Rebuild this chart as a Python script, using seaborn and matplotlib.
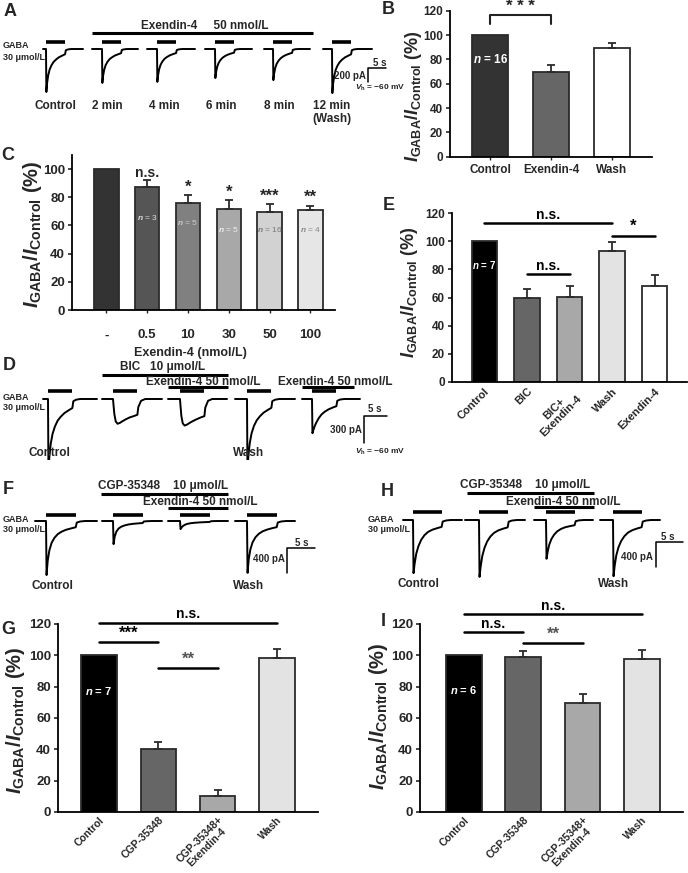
import matplotlib
matplotlib.use('Agg')
import matplotlib.pyplot as plt
import seaborn as sns

# ---------------- data ----------------
# time after GABA onset (s), shared by every current trace
t_shape = [0, 0.1, 0.3, 0.6, 1.0, 1.5, 2.1, 2.8, 3.6, 4.5, 5.3, 5.5, 6.1, 7.0]
gaba_dur = 5.3

# panel A currents (pA)
A_control = [0, -615, -490, -380, -295, -235, -185, -150, -118, -95, -75, -18, -6, 0]
A_2min = [0, -485, -385, -300, -232, -185, -145, -118, -93, -75, -60, -14, -5, 0]
A_4min = [0, -470, -375, -290, -225, -178, -140, -113, -90, -72, -58, -14, -5, 0]
A_6min = [0, -415, -330, -258, -200, -158, -125, -100, -80, -64, -52, -12, -4, 0]
A_8min = [0, -445, -355, -276, -214, -170, -134, -107, -85, -68, -55, -13, -4, 0]
A_wash = [0, -630, -500, -390, -302, -240, -190, -152, -120, -96, -76, -18, -6, 0]
A_labels = ['Control', '2 min', '4 min', '6 min', '8 min', '12 min\n(Wash)']

# panel D currents (pA)
D_control = [0, -810, -640, -495, -385, -305, -240, -195, -155, -125, -100, -25, -8, 0]
D_bic = [0, -60, -170, -250, -275, -265, -245, -225, -205, -190, -175, -90, -20, 0]
D_bicex = [0, -70, -190, -270, -295, -285, -265, -245, -225, -205, -190, -95, -20, 0]
D_wash = [0, -800, -630, -490, -380, -300, -238, -192, -152, -122, -98, -24, -8, 0]
D_ex = [0, -380, -345, -300, -255, -210, -170, -140, -115, -95, -80, -20, -6, 0]

# panel F currents (pA)
F_control = [0, -865, -640, -470, -350, -270, -210, -170, -140, -118, -100, -25, -8, 0]
F_cgp = [0, -370, -250, -170, -120, -90, -70, -55, -45, -38, -32, -8, -3, 0]
F_cgpex = [0, -130, -100, -75, -55, -42, -33, -27, -22, -18, -15, -4, -1, 0]
F_wash = [0, -830, -620, -455, -340, -262, -205, -165, -137, -115, -98, -24, -8, 0]

# panel H currents (pA)
H_control = [0, -850, -700, -540, -420, -320, -245, -190, -155, -130, -110, -25, -8, 0]
H_cgp = [0, -910, -750, -580, -450, -345, -265, -205, -165, -138, -118, -27, -9, 0]
H_cgpex = [0, -620, -510, -395, -305, -235, -180, -142, -115, -97, -83, -19, -6, 0]
H_wash = [0, -900, -740, -570, -440, -338, -260, -200, -162, -135, -115, -26, -9, 0]

# bar charts (% of control)
B_cats = ['Control', 'Exendin-4', 'Wash']
B_vals = [100, 69.5, 89.5]
B_err = [0, 5.5, 3.6]

C_cats = ['-', '0.5', '10', '30', '50', '100']
C_vals = [100, 87, 76, 71.5, 69.5, 71]
C_err = [0, 5, 5.5, 6.5, 5.5, 3]
C_sig = ['', 'n.s.', '*', '*', '***', '**']
C_n = ['', '3', '5', '5', '16', '4']

E_cats = ['Control', 'BIC', 'BIC+\nExendin-4', 'Wash', 'Exendin-4']
E_vals = [100, 60, 60.5, 93, 68]
E_err = [0, 5.7, 7.6, 6.3, 7.8]

G_cats = ['Control', 'CGP-35348', 'CGP-35348+\nExendin-4', 'Wash']
G_vals = [100, 40, 10, 98.5]
G_err = [0, 5, 4.2, 5.8]

I_cats = ['Control', 'CGP-35348', 'CGP-35348+\nExendin-4', 'Wash']
I_vals = [100, 98.7, 69.5, 97.7]
I_err = [0, 3.8, 5.8, 5.9]

# ---------------- style ----------------
sns.set_theme(style='ticks')
plt.rcParams['font.family'] = ['Liberation Sans', 'DejaVu Sans']
plt.rcParams['font.weight'] = 'bold'
plt.rcParams['mathtext.fontset'] = 'custom'
plt.rcParams['mathtext.rm'] = 'Liberation Sans:bold'
plt.rcParams['mathtext.it'] = 'Liberation Sans:bold:italic'
plt.rcParams['mathtext.bf'] = 'Liberation Sans:bold'
plt.rcParams['axes.edgecolor'] = 'black'
plt.rcParams['axes.linewidth'] = 1.3

W, H = 688, 873
fig = plt.figure(figsize=(W / 100, H / 100), dpi=100)
fig.patch.set_facecolor('white')


def px_rect(l, t, r, b):
    return [l / W, 1 - b / H, (r - l) / W, (b - t) / H]


def trace_axes(l, t, r, b, base, pxs, pap):
    ax = fig.add_axes(px_rect(l, t, r, b))
    ax.set_xlim(l / pxs, r / pxs)
    ax.set_ylim((base - b) * pap, (base - t) * pap)
    ax.axis('off')
    return ax


def draw_traces(ax, traces, starts, onsets, ends, pxs, pap, base, gaba_y):
    level = (base - gaba_y) * pap
    for vals, s, o, e in zip(traces, starts, onsets, ends):
        t0 = o / pxs
        tt = [s / pxs] + [t0 + x for x in t_shape] + [e / pxs]
        yy = [0] + list(vals) + [0]
        ax.plot(tt, yy, color='black', lw=1.4)
        ax.plot([t0, t0 + gaba_dur], [level, level], color='black', lw=2.6,
                solid_capstyle='butt')


def scale_bar(ax, cx, cy, pxs, pap, base, sec, pa):
    x0 = cx / pxs
    y0 = (base - cy) * pap
    ax.plot([x0 + sec, x0, x0], [y0, y0, y0 - pa], color='black', lw=1.1)


def bar_panel(l, t, r, b, ylim, xlim, cats, vals, errs, colors, yticks,
              tick_fs=9, xfs=8.5, rot=0):
    ax = fig.add_axes(px_rect(l, t, r, b))
    sns.barplot(x=cats, y=vals, hue=cats, palette=colors, width=0.6,
                edgecolor='#2b2b2b', linewidth=1.3, legend=False,
                saturation=1, ax=ax)
    idx = [i for i, e in enumerate(errs) if e > 0]
    ax.errorbar(idx, [vals[i] for i in idx],
                yerr=[[0] * len(idx), [errs[i] for i in idx]],
                fmt='none', ecolor='#2b2b2b', elinewidth=1.3, capsize=3,
                capthick=1.3)
    ax.set_ylim(*ylim)
    ax.set_xlim(*xlim)
    ax.set_yticks(yticks)
    ax.set_xlabel('')
    ax.set_ylabel('')
    sns.despine(ax=ax)
    ax.tick_params(axis='y', length=3, width=1.2, labelsize=tick_fs, pad=2)
    ax.tick_params(axis='x', length=2, width=1, labelsize=xfs, pad=3)
    if rot:
        for lab in ax.get_xticklabels():
            lab.set_rotation(rot)
            lab.set_ha('right')
            lab.set_rotation_mode('anchor')
            lab.set_multialignment('center')
            lab.set_linespacing(1.0)
    return ax


def sig_line(ax, x0, x1, y, label, fs=9, color='black'):
    ax.plot([x0, x1], [y, y], color='black', lw=1.8, clip_on=False)
    ax.text((x0 + x1) / 2, y + 1, label, ha='center', va='bottom',
            fontsize=fs, color=color, clip_on=False)


# ---------------- traces ----------------
# A
axA = trace_axes(0, 20, 400, 125, 49, 3.6, 14.3)
draw_traces(axA, [A_control, A_2min, A_4min, A_6min, A_8min, A_wash],
            [43, 92, 147, 205, 264, 323], [46, 102, 157, 215, 273, 332],
            [83, 138, 195, 252, 310, 372], 3.6, 14.3, 49, 42)
scale_bar(axA, 368, 68, 3.6, 14.3, 49, 5, 200)

# D
axD = trace_axes(0, 355, 400, 460, 399, 4.6, 11.1)
draw_traces(axD, [D_control, D_bic, D_bicex, D_wash, D_ex],
            [43, 102, 168, 235, 302], [48, 113, 180, 247, 312],
            [97, 162, 227, 295, 360], 4.6, 11.1, 399, 391)
scale_bar(axD, 364, 416, 4.6, 11.1, 399, 5, 300)

# F
axF = trace_axes(0, 480, 340, 592, 521, 5.6, 16)
draw_traces(axF, [F_control, F_cgp, F_cgpex, F_wash],
            [35, 102, 168, 235], [46, 113, 180, 247],
            [97, 162, 228, 295], 5.6, 16, 521, 515)
scale_bar(axF, 287, 548, 5.6, 16, 521, 5, 400)

# H
axH = trace_axes(345, 480, 688, 592, 520, 5.4, 16)
draw_traces(axH, [H_control, H_cgp, H_cgpex, H_wash],
            [403, 465, 534, 600], [413, 479, 546, 613],
            [462, 525, 593, 660], 5.4, 16, 520, 512)
scale_bar(axH, 656, 542, 5.4, 16, 520, 5, 400)

# ---------------- bar charts ----------------
n_lab = r'$\mathit{n}$ = '

# B
axB = bar_panel(450, 10.7, 652, 156.7, (0, 120), (-0.66, 2.66), B_cats, B_vals,
                B_err, ['#333333', '#666666', '#ffffff'], range(0, 121, 20),
                tick_fs=8.5, xfs=8.5)
axB.plot([0, 0, 1, 1], [109, 116.4, 116.4, 109], color='#222222', lw=1.5,
         clip_on=False)
axB.text(0.5, 117, '* * *', ha='center', va='bottom', fontsize=12,
         clip_on=False)
axB.text(0, 80, n_lab + '16', ha='center', va='center', color='white',
         fontsize=8.5)

# C
axC = bar_panel(72, 155, 335, 310, (0, 110), (-0.84, 5.6), C_cats, C_vals,
                C_err, ['#333333', '#555555', '#808080', '#a8a8a8', '#d2d2d2',
                        '#e6e6e6'], range(0, 101, 20), tick_fs=9.5, xfs=9.5)
axC.tick_params(axis='x', pad=12)
n_colors = ['', '#dddddd', '#cccccc', '#eeeeee', '#777777', '#888888']
n_y = [0, 66, 62, 57, 57, 57]
for i in range(1, 6):
    top = C_vals[i] + C_err[i]
    fs = 12 if '*' in C_sig[i] else 10
    axC.text(i, top + 0.5, C_sig[i], ha='center', va='bottom', fontsize=fs)
    axC.text(i, n_y[i], r'$n$ = ' + C_n[i], ha='center', va='center',
             fontsize=6, color=n_colors[i], fontweight='normal')

# E
axE = bar_panel(452, 213, 687, 382, (0, 120), (-0.76, 4.76), E_cats, E_vals,
                E_err, ['#000000', '#666666', '#a8a8a8', '#e3e3e3', '#ffffff'],
                range(0, 121, 20), tick_fs=8.5, xfs=8, rot=45)
axE.tick_params(axis='x', length=0)
sig_line(axE, 0, 3, 112.8, 'n.s.', fs=10)
sig_line(axE, 1, 2, 76.5, 'n.s.', fs=10)
sig_line(axE, 3, 4, 104, '*', fs=12)
axE.text(0, 83, n_lab + '7', ha='center', va='center', color='white',
         fontsize=7)

# G
axG = bar_panel(58, 624, 318, 812, (0, 120), (-0.69, 3.69), G_cats, G_vals,
                G_err, ['#000000', '#666666', '#a8a8a8', '#e3e3e3'],
                range(0, 121, 20), tick_fs=9.5, xfs=7.5, rot=45)
axG.tick_params(axis='x', length=0, pad=2)
sig_line(axG, 0, 3, 120.7, 'n.s.', fs=10)
sig_line(axG, 0, 1, 108.6, '***', fs=12)
sig_line(axG, 1, 2, 92, '**', fs=12, color='#555555')
axG.text(0, 77, n_lab + '7', ha='center', va='center', color='white',
         fontsize=8)

# I
axI = bar_panel(420, 624, 683, 812, (0, 120), (-0.74, 3.69), I_cats, I_vals,
                I_err, ['#000000', '#666666', '#a8a8a8', '#e3e3e3'],
                range(0, 121, 20), tick_fs=9.5, xfs=7.5, rot=45)
axI.tick_params(axis='x', length=0, pad=2)
sig_line(axI, 0, 3, 126.2, 'n.s.', fs=10)
sig_line(axI, 0, 1, 114.7, 'n.s.', fs=10)
sig_line(axI, 1, 2, 107.7, '**', fs=12, color='#555555')
axI.text(0, 78, n_lab + '6', ha='center', va='center', color='white',
         fontsize=8)

# ---------------- text overlay (figure pixels) ----------------
ov = fig.add_axes([0, 0, 1, 1])
ov.set_xlim(0, W)
ov.set_ylim(H, 0)
ov.axis('off')


def txt(x, y, s, size=8.5, ha='center', va='center', **kw):
    ov.text(x, y, s, fontsize=size, ha=ha, va=va, **kw)


def hbar(x0, x1, y, lw=2.2):
    ov.plot([x0, x1], [y, y], color='black', lw=lw, solid_capstyle='butt')


ylab = r'$I_{\rm GABA}/I_{\rm Control}$ (%)'
for (x, y, fs) in [(413, 96, 13), (33, 234, 14.5), (410, 292, 13),
                   (16, 720, 14.5), (379, 716, 14.5)]:
    txt(x, y, ylab, size=fs, rotation=90)

for (s, x, y) in [('A', 10, 11), ('B', 388, 10), ('C', 8, 156), ('D', 9, 366),
                  ('E', 389, 205), ('F', 8, 490), ('G', 8, 629),
                  ('H', 387, 492), ('I', 383, 621)]:
    txt(x, y, s, size=13)

vh = r'$V_{\rm h}$ = −60 mV'

# A annotations
txt(3, 46, 'GABA', size=6.5, ha='left')
txt(3, 57, '30 μmol/L', size=6.5, ha='left')
txt(205, 26, 'Exendin-4     50 nmol/L', size=8.5)
hbar(92, 313, 33)
for s, x in zip(A_labels, [55, 107, 164, 221, 279, 332]):
    if '\n' in s:
        txt(x, 100, s, va='top', linespacing=1.1)
    else:
        txt(x, 106, s)
txt(380, 63, '5 s', size=7)
txt(366, 76, '200 pA', size=7, ha='right')
txt(355, 88, vh, size=6, ha='left')

# C axis title
txt(190, 353, 'Exendin-4 (nmol/L)', size=9)

# D annotations
txt(3, 397, 'GABA', size=6.5, ha='left')
txt(3, 408, '30 μmol/L', size=6.5, ha='left')
txt(163, 367, 'BIC   10 μmol/L', size=8.5)
hbar(102, 228, 375)
txt(203, 382, 'Exendin-4 50 nmol/L', size=8.5)
hbar(168, 228, 387)
txt(335, 382, 'Exendin-4 50 nmol/L', size=8.5)
hbar(302, 354, 387)
txt(49, 453, 'Control')
txt(249, 453, 'Wash')
txt(375, 409, '5 s', size=7)
txt(362, 430, '300 pA', size=7, ha='right')
txt(355, 452, vh, size=6, ha='left')

# F annotations
txt(3, 519, 'GABA', size=6.5, ha='left')
txt(3, 530, '30 μmol/L', size=6.5, ha='left')
txt(163, 486, 'CGP-35348    10 μmol/L', size=8.5)
hbar(101, 228, 494)
txt(200, 502, 'Exendin-4 50 nmol/L', size=8.5)
hbar(168, 228, 508)
txt(52, 586, 'Control')
txt(249, 586, 'Wash')
txt(302, 543, '5 s', size=7)
txt(285, 559, '400 pA', size=7, ha='right')

# H annotations
txt(368, 520, 'GABA', size=6.5, ha='left')
txt(368, 530, '30 μmol/L', size=6.5, ha='left')
txt(525, 485, 'CGP-35348    10 μmol/L', size=8.5)
hbar(467, 594, 493)
txt(563, 502, 'Exendin-4 50 nmol/L', size=8.5)
hbar(534, 594, 507)
txt(418, 584, 'Control')
txt(614, 584, 'Wash')
txt(668, 537, '5 s', size=7)
txt(653, 557, '400 pA', size=7, ha='right')

fig.savefig('out.png', dpi=100, facecolor='white')
